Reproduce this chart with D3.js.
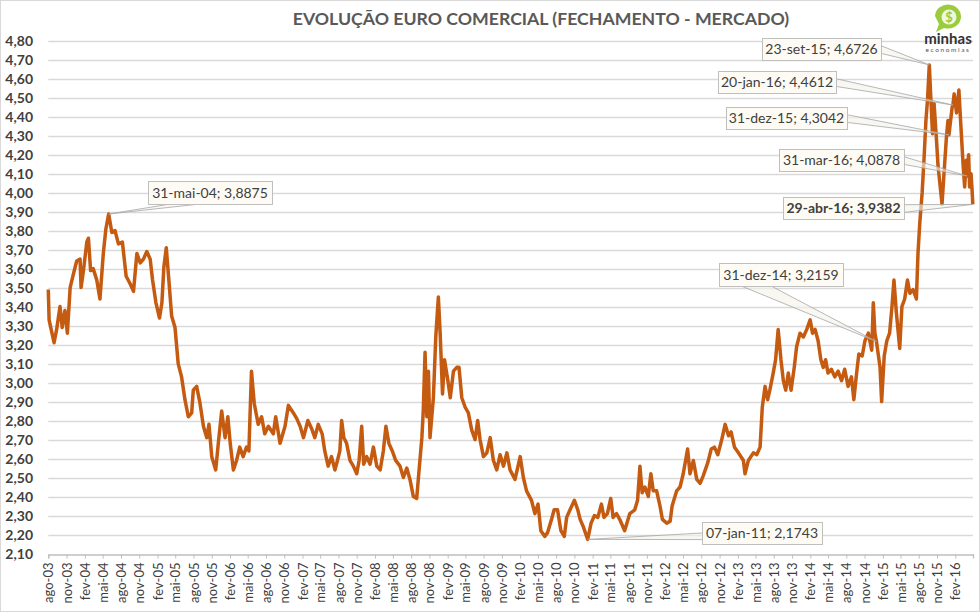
<!DOCTYPE html>
<html lang="pt">
<head>
<meta charset="utf-8">
<title>Evolução Euro Comercial</title>
<script src="https://d3js.org/d3.v7.min.js"></script>
<style>
  body { margin: 0; background: #fff; }
  svg { display: block; font-family: Lato, "Open Sans", sans-serif; }
</style>
</head>
<body>
<script>
// closing rate of the commercial euro (R$)
const dates = [
  "2003-08-01","2003-08-05","2003-08-30","2003-09-12","2003-09-29","2003-10-10","2003-10-24","2003-11-05","2003-11-19","2003-12-05","2003-12-22",
  "2004-01-08","2004-01-13","2004-01-25","2004-02-11","2004-02-19","2004-03-01","2004-03-14","2004-04-01","2004-04-17","2004-05-04","2004-05-17","2004-05-31",
  "2004-06-16","2004-07-02","2004-07-19","2004-08-08","2004-08-27","2004-09-16","2004-10-03","2004-10-20","2004-11-06","2004-11-22","2004-12-09","2004-12-26",
  "2005-01-07","2005-01-24","2005-02-11","2005-02-23","2005-03-05","2005-03-17","2005-03-30","2005-04-13","2005-04-30","2005-05-16","2005-06-02","2005-06-19",
  "2005-07-06","2005-07-23","2005-07-31","2005-08-17","2005-09-03","2005-09-20","2005-10-07","2005-10-18","2005-11-01","2005-11-21","2005-12-04","2005-12-21",
  "2006-01-07","2006-01-21","2006-02-02","2006-02-18","2006-03-06","2006-03-22","2006-04-08","2006-04-25","2006-05-07","2006-05-20","2006-06-03","2006-06-23",
  "2006-07-10","2006-07-26","2006-08-13","2006-09-07","2006-09-19","2006-10-11","2006-11-05","2006-11-22","2006-12-17",
  "2007-01-03","2007-01-20","2007-02-06","2007-02-28","2007-03-18","2007-04-04","2007-04-21","2007-05-11","2007-05-24","2007-06-10","2007-06-27","2007-07-14",
  "2007-07-27","2007-08-08","2007-08-17","2007-08-28","2007-09-11","2007-09-28","2007-10-15","2007-11-01","2007-11-13","2007-11-26","2007-12-06","2007-12-21",
  "2008-01-07","2008-01-24","2008-02-10","2008-02-27","2008-03-14","2008-03-27","2008-04-11","2008-04-28","2008-05-15","2008-06-06","2008-06-23","2008-07-10",
  "2008-07-26","2008-08-12","2008-08-29","2008-09-10","2008-09-24","2008-10-01","2008-10-10","2008-10-19","2008-10-27","2008-11-04","2008-11-21","2008-12-03",
  "2008-12-16","2008-12-25",
  "2009-01-06","2009-01-16","2009-02-02","2009-02-14","2009-03-02","2009-03-19","2009-03-30","2009-04-13","2009-04-30","2009-05-16","2009-06-02","2009-06-19",
  "2009-07-02","2009-07-14","2009-07-31","2009-08-17","2009-09-03","2009-09-19","2009-10-06","2009-10-23","2009-11-09","2009-11-26","2009-12-12",
  "2010-01-06","2010-02-01","2010-02-17","2010-03-05","2010-03-30","2010-04-16","2010-05-02","2010-05-16","2010-06-05","2010-06-19","2010-07-09","2010-07-22",
  "2010-08-08","2010-08-25","2010-09-11","2010-09-23","2010-10-10","2010-11-01","2010-11-18","2010-11-30","2010-12-16",
  "2011-01-07","2011-01-24","2011-02-10","2011-02-27","2011-03-17","2011-03-30","2011-04-16","2011-05-03","2011-05-15","2011-06-01","2011-06-17","2011-07-12",
  "2011-08-07","2011-09-01","2011-09-15","2011-09-27","2011-10-08","2011-10-22","2011-11-08","2011-11-21","2011-12-03","2011-12-20",
  "2012-01-06","2012-01-18","2012-02-09","2012-02-26","2012-03-07","2012-03-30","2012-04-16","2012-05-02","2012-05-24","2012-06-05","2012-06-22","2012-07-09",
  "2012-07-26","2012-08-11","2012-09-03","2012-09-20","2012-10-06","2012-10-23","2012-11-12","2012-11-29","2012-12-16","2012-12-29",
  "2013-01-15","2013-02-04","2013-03-01","2013-03-09","2013-03-26","2013-04-20","2013-05-07","2013-05-24","2013-06-04","2013-06-18","2013-07-01","2013-07-12",
  "2013-07-29","2013-08-10","2013-08-23","2013-09-06","2013-09-18","2013-09-30","2013-10-13","2013-10-27","2013-11-12","2013-11-24","2013-12-11","2013-12-28",
  "2014-01-14","2014-01-31","2014-02-12","2014-02-25","2014-03-12","2014-03-26","2014-04-07","2014-04-19","2014-05-01","2014-05-18","2014-06-04","2014-06-21",
  "2014-07-08","2014-07-24","2014-08-10","2014-08-27","2014-09-08","2014-09-22","2014-10-03","2014-10-20","2014-11-03","2014-11-20","2014-12-07","2014-12-15",
  "2014-12-23","2014-12-31",
  "2015-01-18","2015-01-26","2015-02-08","2015-02-21","2015-03-07","2015-03-19","2015-03-29","2015-04-10","2015-04-27","2015-05-08","2015-05-22","2015-06-05",
  "2015-06-17","2015-07-03","2015-07-20","2015-07-28","2015-08-06","2015-08-18","2015-08-28","2015-09-06","2015-09-14","2015-09-23","2015-10-01","2015-10-09",
  "2015-10-17","2015-10-29","2015-11-06","2015-11-15","2015-11-26","2015-12-06","2015-12-18","2015-12-26","2015-12-31",
  "2016-01-16","2016-01-20","2016-01-26","2016-02-07","2016-02-19","2016-02-29","2016-03-11","2016-03-19","2016-03-27","2016-03-31","2016-04-08","2016-04-13",
  "2016-04-20","2016-04-25","2016-04-29"
];
const rates = [
  3.49,3.33,3.21,3.28,3.40,3.29,3.38,3.26,3.50,3.57,3.64,
  3.65,3.50,3.59,3.74,3.76,3.59,3.60,3.54,3.44,3.68,3.81,3.8875,
  3.79,3.80,3.73,3.74,3.56,3.52,3.48,3.68,3.63,3.65,3.69,3.65,
  3.54,3.42,3.34,3.42,3.61,3.71,3.54,3.35,3.29,3.10,3.03,2.91,
  2.82,2.84,2.96,2.98,2.89,2.77,2.71,2.78,2.61,2.54,2.68,2.85,
  2.71,2.82,2.68,2.54,2.59,2.66,2.61,2.66,2.64,3.06,2.89,2.78,
  2.82,2.73,2.77,2.73,2.82,2.68,2.77,2.88,2.84,
  2.81,2.77,2.71,2.80,2.76,2.71,2.78,2.73,2.64,2.56,2.61,2.54,
  2.59,2.64,2.80,2.71,2.68,2.59,2.56,2.52,2.59,2.77,2.57,2.61,
  2.57,2.66,2.56,2.54,2.64,2.77,2.68,2.64,2.59,2.56,2.50,2.55,
  2.49,2.40,2.39,2.54,2.71,2.85,3.16,2.82,3.06,2.71,2.92,3.24,
  3.45,3.26,
  2.94,3.12,3.01,2.92,3.06,3.08,3.08,2.92,2.87,2.84,2.75,2.70,
  2.80,2.70,2.61,2.63,2.71,2.59,2.54,2.62,2.56,2.63,2.54,
  2.49,2.61,2.50,2.43,2.38,2.31,2.36,2.22,2.19,2.21,2.28,2.33,
  2.33,2.22,2.19,2.29,2.33,2.38,2.33,2.28,2.24,
  2.1743,2.26,2.30,2.29,2.36,2.29,2.31,2.39,2.29,2.31,2.28,2.22,
  2.31,2.33,2.38,2.56,2.42,2.45,2.40,2.52,2.43,2.43,
  2.35,2.28,2.26,2.27,2.35,2.43,2.45,2.52,2.65,2.52,2.59,2.49,
  2.47,2.51,2.58,2.65,2.66,2.62,2.70,2.78,2.72,2.74,
  2.66,2.63,2.59,2.52,2.59,2.63,2.62,2.66,2.87,2.98,2.91,2.96,
  3.05,3.12,3.28,3.12,3.01,2.96,3.05,2.96,3.08,3.19,3.26,3.24,
  3.28,3.33,3.26,3.28,3.22,3.12,3.08,3.12,3.05,3.07,3.03,3.06,
  3.01,3.07,2.98,3.03,2.91,3.05,3.15,3.14,3.22,3.26,3.17,3.42,
  3.26,3.2159,
  3.08,2.90,3.14,3.22,3.26,3.40,3.54,3.37,3.18,3.40,3.44,3.54,
  3.47,3.49,3.44,3.68,3.84,4.00,4.19,4.38,4.49,4.6726,4.49,4.31,
  4.47,4.28,4.14,4.05,3.94,4.10,4.29,4.38,4.3042,
  4.45,4.4612,4.52,4.42,4.54,4.35,4.15,4.03,4.17,4.0878,4.20,4.03,
  4.10,4.02,3.9382
];

// labelled points
const noteDates = ["2004-05-31","2015-09-23","2016-01-20","2015-12-31","2016-03-31","2016-04-29","2014-12-31","2011-01-07"];
const noteValues = [3.8875, 4.6726, 4.4612, 4.3042, 4.0878, 3.9382, 3.2159, 2.1743];
const noteText = ["31-mai-04; 3,8875","23-set-15; 4,6726","20-jan-16; 4,4612","31-dez-15; 4,3042",
                  "31-mar-16; 4,0878","29-abr-16; 3,9382","31-dez-14; 3,2159","07-jan-11; 2,1743"];

// box placement of each label: x, y, width, height, side the leader leaves from
const noteBoxes = [
  [148, 181, 124, 23, "bottom"],
  [762, 38, 119, 22, "right"],
  [718, 71, 118, 22, "right"],
  [726, 107, 121, 22, "right"],
  [779, 149, 125, 22, "right"],
  [783, 197, 121, 22, "right"],
  [719, 263, 124, 23, "bottom"],
  [702, 522, 120, 22, "left"]
];

const meses = ["jan","fev","mar","abr","mai","jun","jul","ago","set","out","nov","dez"];

const W = 980, H = 612;
const parse = d3.timeParse("%Y-%m-%d");
const data = dates.map((d, i) => ({ date: parse(d), value: rates[i] }));

const svg = d3.select("body").append("svg")
  .attr("width", W).attr("height", H);

svg.append("rect")
  .attr("x", 0.5).attr("y", 0.5).attr("width", W - 1).attr("height", H - 1)
  .attr("fill", "#fff").attr("stroke", "#d9d9d9");

const x = d3.scaleTime()
  .domain([parse("2003-08-01"), parse("2016-04-30")])
  .range([48.3, 973]);
const y = d3.scaleLinear()
  .domain([2.10, 4.80])
  .range([553.5, 40.7]);

const comma = d3.formatLocale({ decimal: ",", thousands: ".", grouping: [3], currency: ["R$", ""] });
const fmt = comma.format(".2f");

// gridlines + y labels
const yTicks = d3.range(21, 49).map(v => v / 10);
svg.append("g").selectAll("line")
  .data(yTicks.filter(v => v > 2.1))
  .join("line")
  .attr("x1", x.range()[0]).attr("x2", x.range()[1])
  .attr("y1", d => Math.round(y(d)) + 0.5).attr("y2", d => Math.round(y(d)) + 0.5)
  .attr("stroke", "#d9d9d9").attr("stroke-width", 1.3);

svg.append("g").selectAll("text")
  .data(yTicks)
  .join("text")
  .attr("x", 33).attr("y", d => y(d))
  .attr("dy", "0.36em")
  .attr("text-anchor", "end")
  .attr("font-size", 14).attr("font-weight", "bold")
  .attr("fill", "#404040")
  .text(d => fmt(d));

// x axis
const xTicks = d3.timeMonth.range(parse("2003-08-01"), parse("2016-04-01"), 3);
const xAxis = d3.axisBottom(x)
  .tickValues(xTicks)
  .tickSize(4)
  .tickPadding(4)
  .tickFormat(d => meses[d.getMonth()] + "-" + d3.timeFormat("%y")(d));

const gx = svg.append("g")
  .attr("transform", "translate(0," + (Math.round(y(2.10)) + 0.5) + ")")
  .call(xAxis);
gx.select(".domain").attr("stroke", "#bfbfbf").attr("stroke-width", 1.3);
gx.selectAll(".tick line").attr("stroke", "#bfbfbf");
gx.selectAll(".tick text")
  .attr("transform", "rotate(-90)")
  .attr("text-anchor", "end")
  .attr("x", -8).attr("y", 0).attr("dy", "0.35em")
  .attr("font-family", "Lato, sans-serif")
  .attr("font-size", 13)
  .attr("fill", "#404040");

// the series
const line = d3.line()
  .x(d => x(d.date))
  .y(d => y(d.value));

svg.append("path")
  .datum(data)
  .attr("d", line)
  .attr("fill", "none")
  .attr("stroke", "#c55a11")
  .attr("stroke-width", 3.5)
  .attr("stroke-linejoin", "round");

// callouts
noteDates.forEach((d, i) => {
  const px = x(parse(d)), py = y(noteValues[i]);
  const [bx, by, bw, bh, side] = noteBoxes[i];
  let a, b;
  if (side === "bottom") {
    a = [bx + bw * 0.18, by + bh]; b = [bx + bw * 0.42, by + bh];
  } else if (side === "right") {
    a = [bx + bw, by + bh * 0.35]; b = [bx + bw, by + bh * 0.7];
  } else {
    a = [bx, by + bh * 0.5]; b = [bx, by + bh * 0.8];
  }
  svg.append("path")
    .attr("d", d3.line()([a, [px, py], b]))
    .attr("fill", "#f4f1ea").attr("fill-opacity", 0.6)
    .attr("stroke", "#a6a6a6").attr("stroke-width", 0.8);
  svg.append("rect")
    .attr("x", bx + 0.5).attr("y", by + 0.5).attr("width", bw).attr("height", bh)
    .attr("fill", "#fdfbf4").attr("stroke", "#bfbfbf");
  svg.append("text")
    .attr("x", bx + bw / 2).attr("y", by + bh / 2)
    .attr("dy", "0.36em")
    .attr("text-anchor", "middle")
    .attr("font-size", 14)
    .attr("font-weight", i === 5 ? "bold" : "normal")
    .attr("fill", "#404040")
    .text(noteText[i]);
});

// title
svg.append("text")
  .attr("x", 541).attr("y", 25)
  .attr("text-anchor", "middle")
  .attr("font-size", 17.7).attr("font-weight", "bold")
  .attr("fill", "#595959")
  .text("EVOLUÇÃO EURO COMERCIAL (FECHAMENTO - MERCADO)");

// logo
const logo = svg.append("g").attr("transform", "translate(948,18)");
logo.append("path")
  .attr("d", "M-13,-2 A13,12 0 1,1 -4,10 L-12,14 L-9,6 Z")
  .attr("fill", "#9bcc3c");
logo.append("circle").attr("cx", 1).attr("cy", -1).attr("r", 7.5).attr("fill", "#fff").attr("fill-opacity", 0.85);
logo.append("text")
  .attr("x", 1).attr("y", 4).attr("text-anchor", "middle")
  .attr("font-size", 13).attr("font-weight", "bold").attr("fill", "#9bcc3c")
  .text("$");
svg.append("text")
  .attr("x", 948).attr("y", 44).attr("text-anchor", "middle")
  .attr("font-size", 15).attr("font-weight", "bold").attr("fill", "#333")
  .text("minhas");
svg.append("text")
  .attr("x", 948).attr("y", 52).attr("text-anchor", "middle")
  .attr("font-size", 6.5).attr("letter-spacing", 1.6).attr("fill", "#555")
  .text("economias");
</script>
</body>
</html>
